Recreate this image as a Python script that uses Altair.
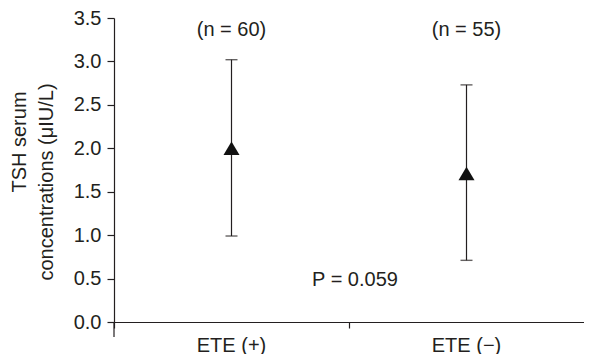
import altair as alt
import pandas as pd

groups = ["ETE (+)", "ETE (\u2212)"]
means = [2.0, 1.71]
lower = [0.99, 0.71]
upper = [3.02, 2.73]
n_labels = ["(n = 60)", "(n = 55)"]
p_label = "P = 0.059"

df = pd.DataFrame({"group": groups, "mean": means, "lower": lower,
                   "upper": upper, "n": n_labels})
ends = pd.DataFrame({"group": groups * 2, "v": lower + upper})

FONT = "Liberation Sans"
INK = "#231f20"
FS = 20
W, H = 470, 304

x = alt.X("group:N", sort=groups, title=None,
          scale=alt.Scale(paddingInner=0, paddingOuter=0),
          axis=alt.Axis(bandPosition=0, labelAngle=0, labelFontSize=FS,
                        labelFont=FONT, labelColor=INK, labelPadding=7,
                        tickSize=6, domainColor=INK, tickColor=INK))
yscale = alt.Scale(domain=[0, 3.5], nice=False)

base = alt.Chart(df)

rule = base.mark_rule(color=INK, strokeWidth=1.2).encode(
    x=x,
    y=alt.Y("lower:Q", scale=yscale, title=None,
            axis=alt.Axis(values=[0, 0.5, 1, 1.5, 2, 2.5, 3, 3.5], format=".1f",
                          labelFontSize=FS, labelFont=FONT, labelColor=INK,
                          labelPadding=6, tickSize=7, domainColor=INK,
                          tickColor=INK, grid=False)),
    y2="upper:Q",
)

caps = alt.Chart(ends).mark_tick(color=INK, thickness=1.4, size=12,
                                 orient="horizontal").encode(
    x=alt.X("group:N", sort=groups),
    y=alt.Y("v:Q", scale=yscale),
)

tri = base.mark_point(shape="M0,-0.85L-1,0.85L1,0.85Z", filled=True,
                      color="#111111", opacity=1, size=256).encode(
    x=alt.X("group:N", sort=groups),
    y=alt.Y("mean:Q", scale=yscale),
)

ntext = base.mark_text(font=FONT, fontSize=FS, color=INK).encode(
    x=alt.X("group:N", sort=groups),
    y=alt.Y("ny:Q", scale=yscale),
    text="n:N",
).transform_calculate(ny="3.36")

ptext = alt.Chart(pd.DataFrame({"t": [p_label]})).mark_text(
    font=FONT, fontSize=FS, color=INK).encode(
    x=alt.value(W / 2 + 6), y=alt.Y("py:Q", scale=yscale), text="t:N"
).transform_calculate(py="0.48")

title1 = alt.Chart(pd.DataFrame({"t": ["TSH serum"]})).mark_text(
    font=FONT, fontSize=FS, color=INK, angle=270).encode(
    x=alt.value(-94), y=alt.value(124), text="t:N")
title2 = alt.Chart(pd.DataFrame({"t": ["concentrations (\u03bcIU/L)"]})).mark_text(
    font=FONT, fontSize=FS, color=INK, angle=270).encode(
    x=alt.value(-67), y=alt.value(164), text="t:N")

ext = alt.Chart(pd.DataFrame({"a": [0]})).mark_rule(color=INK, strokeWidth=1.2).encode(
    x=alt.value(0), y=alt.value(H), y2=alt.value(H + 15))

chart = alt.layer(rule, caps, tri, ntext, ptext, title1, title2, ext).properties(
    width=W, height=H,
    autosize=alt.AutoSizeParams(type="none"),
    padding={"left": 106, "top": 10, "right": 0, "bottom": 32},
).configure_view(stroke=None).configure_axis(domainWidth=1.2, tickWidth=1.2)

chart.save("out.html", embed_options={"renderer": "svg", "actions": False})
